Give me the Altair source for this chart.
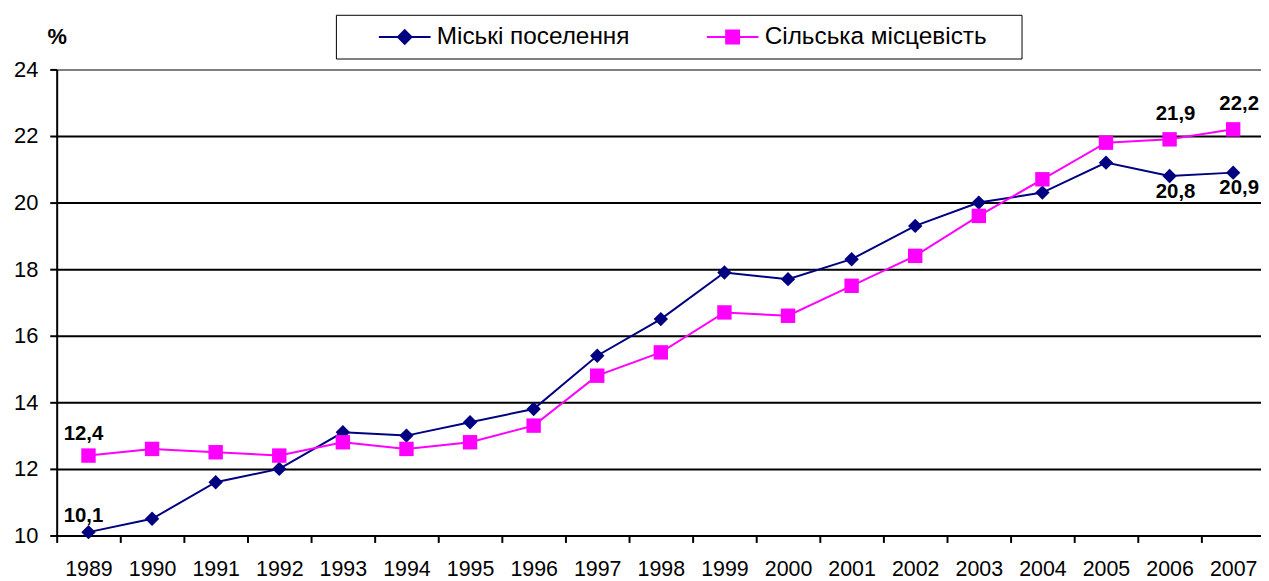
import altair as alt
import pandas as pd

years = [str(y) for y in range(1989, 2008)]
urban = [10.1, 10.5, 11.6, 12.0, 13.1, 13.0, 13.4, 13.8, 15.4, 16.5,
         17.9, 17.7, 18.3, 19.3, 20.0, 20.3, 21.2, 20.8, 20.9]
rural = [12.4, 12.6, 12.5, 12.4, 12.8, 12.6, 12.8, 13.3, 14.8, 15.5,
         16.7, 16.6, 17.5, 18.4, 19.6, 20.7, 21.8, 21.9, 22.2]
series_names = ["Міські поселення", "Сільська місцевість"]
series_colors = ["#000080", "#FF00FF"]
y_ticks = [10, 12, 14, 16, 18, 20, 22, 24]

df = pd.DataFrame({
    "year": years * 2,
    "series": [series_names[0]] * len(years) + [series_names[1]] * len(years),
    "value": urban + rural,
})

FONT = "Liberation Sans"

x_enc = alt.X(
    "year:N", sort=years, bandPosition=0.5,
    scale=alt.Scale(type="band", range=[0, 1216], paddingInner=0, paddingOuter=0),
    axis=alt.Axis(title=None, labelFont=FONT, labelFontSize=21.5, labelColor="black",
                  labelAngle=0, tickBand="extent", tickSize=7, tickColor="black",
                  tickWidth=2, domainColor="black", domainWidth=2, labelPadding=16,
                  grid=False),
)
y_enc = alt.Y(
    "value:Q",
    scale=alt.Scale(domain=[10, 24], nice=False, zero=False),
    axis=alt.Axis(title="%", titleAngle=0, titleX=0, titleY=-33, titleAlign="center",
                  titleBaseline="middle", titleFont=FONT, titleFontSize=22,
                  titleFontWeight="bold", titleColor="black",
                  values=y_ticks, labelFont=FONT, labelFontSize=22, labelColor="black",
                  tickSize=7, tickColor="black", tickWidth=2, domainColor="black",
                  domainWidth=2, grid=True, gridWidth=2,
                  gridColor={"condition": {"test": "datum.value === 24", "value": "#808080"},
                             "value": "black"},
                  labelPadding=12),
)

base = alt.Chart(df)
shapes = ["diamond", "square"]
layers = []
for name, col, shp in zip(series_names, series_colors, shapes):
    flt = alt.datum.series == name
    layers.append(base.transform_filter(flt).mark_line(color=col, strokeWidth=2).encode(x=x_enc, y=y_enc))
    layers.append(base.transform_filter(flt).mark_point(shape=shp, filled=True, size=210, color=col,
                                                        opacity=1).encode(x=x_enc, y=y_enc))

# value labels
label_specs = [
    (series_names[1], ["1989"], -5, -22),
    (series_names[0], ["1989"], -5, -16),
    (series_names[1], ["2006", "2007"], 6, -25),
    (series_names[0], ["2006", "2007"], 6, 16),
]
for name, yrs, dx, dy in label_specs:
    cond = "datum.series == '%s' && indexof(%s, datum.year) >= 0" % (name, str(yrs))
    layers.append(
        base.transform_filter(cond)
        .transform_calculate(lbl="replace(format(datum.value, '.1f'), '.', ',')")
        .mark_text(font=FONT, fontSize=20.5, fontWeight="bold", color="black", dx=dx, dy=dy,
                   baseline="middle", align="center")
        .encode(x=x_enc, y=y_enc, text="lbl:N")
    )

# legend-only layer
leg_paths = [
    "M-2.6,0L2.6,0M0,-0.68L0.68,0L0,0.68L-0.68,0Z",
    "M-2.6,0L2.6,0M-0.65,-0.65L0.65,-0.65L0.65,0.65L-0.65,0.65Z",
]
legend = alt.Legend(
    orient="none", legendX=281, legendY=-55, direction="horizontal",
    fillColor="white", strokeColor="black", padding=10,
    symbolSize=400, symbolStrokeWidth=2, symbolOpacity=1,
    labelFont=FONT, labelFontSize=24.5, labelColor="black", labelOffset=20, labelLimit=600,
    labelExpr="datum.label + '\u2003\u200b'",
    columnPadding=48, title=" ", titleOrient="left", titleFontSize=1, titlePadding=47,
)
legend_layer = base.transform_filter("false").mark_point(filled=True, opacity=1).encode(
    x=x_enc, y=y_enc,
    fill=alt.Fill("series:N", scale=alt.Scale(domain=series_names, range=series_colors), legend=legend),
    stroke=alt.Stroke("series:N", scale=alt.Scale(domain=series_names, range=series_colors), legend=legend),
    shape=alt.Shape("series:N", scale=alt.Scale(domain=series_names, range=leg_paths), legend=legend),
)
layers.append(legend_layer)

chart = alt.layer(*layers).properties(
    width=1212, height=469,
    padding={"left": 49, "top": 60, "right": 0, "bottom": 44},
    autosize="none",
).configure_view(
    fill="#C0C0C0", stroke="#808080", strokeWidth=2
).configure_legend(strokeWidth=2).configure(background="white")

chart.save("out.html", embed_options={"renderer": "svg", "actions": False})
